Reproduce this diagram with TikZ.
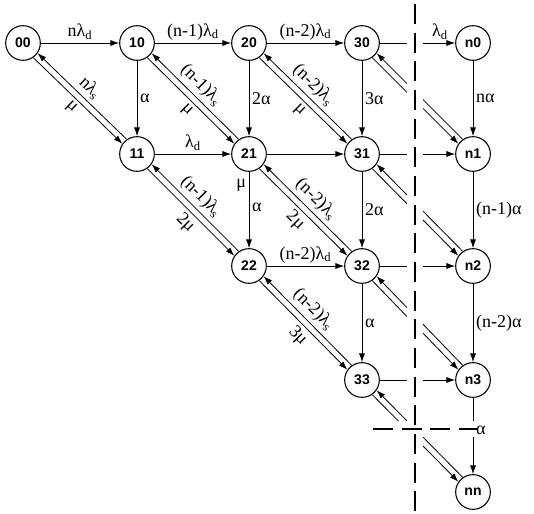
\documentclass[tikz,border=0pt]{standalone}
\usepackage{fontspec}
\setmainfont{Liberation Serif}
\newfontfamily\statefont{Liberation Sans}
\usetikzlibrary{arrows.meta}
\tikzstyle{st} = [circle, draw=black, line width=0.8pt, inner sep=0pt, minimum size=26pt, font=\statefont\bfseries\fontsize{10.5}{12}\selectfont]
\tikzstyle{tr} = [->, line width=0.6pt]
\tikzstyle{lb} = [font=\fontsize{13.5}{15}\selectfont, inner sep=2pt]
\tikzstyle{dl} = [lb, sloped, inner sep=2.5pt]
\tikzstyle{cutgap} = [white, line width=12pt]
\tikzstyle{cutline} = [black, line width=2.2pt, dash pattern=on 15pt off 6.5pt]

\begin{document}
\begin{tikzpicture}[x=0.75pt, y=-0.75pt, >={Latex[length=6.5pt,width=4.5pt]}]
	\useasboundingbox (0,0) rectangle (534,513);

	% states
	\node[st] (s00) at (23,43)   {00};
	\node[st] (s10) at (137,43)  {10};
	\node[st] (s20) at (249,43)  {20};
	\node[st] (s30) at (362,43)  {30};
	\node[st] (sn0) at (473,43)  {n0};
	\node[st] (s11) at (137,154) {11};
	\node[st] (s21) at (249,154) {21};
	\node[st] (s31) at (362,154) {31};
	\node[st] (sn1) at (473,154) {n1};
	\node[st] (s22) at (249,266) {22};
	\node[st] (s32) at (362,266) {32};
	\node[st] (sn2) at (473,266) {n2};
	\node[st] (s33) at (362,380) {33};
	\node[st] (sn3) at (473,380) {n3};
	\node[st] (snn) at (473,492) {nn};

	\coordinate (cuttop) at (415,4);
	\coordinate (cutbot) at (415,513);
	\coordinate (cutl) at (373,429);
	\coordinate (cutr) at (477,429);

	% arrivals
	\draw[tr] (s00) -- node[lb,above]{nλ\textsubscript{d}} (s10);
	\draw[tr] (s10) -- node[lb,above]{(n-1)λ\textsubscript{d}} (s20);
	\draw[tr] (s20) -- node[lb,above]{(n-2)λ\textsubscript{d}} (s30);
	\draw[tr] (s30) -- node[lb,above,pos=0.8]{λ\textsubscript{d}} (sn0);
	\draw[tr] (s11) -- node[lb,above]{λ\textsubscript{d}} (s21);
	\draw[tr] (s21) -- (s31);
	\draw[tr] (s31) -- (sn1);
	\draw[tr] (s22) -- node[lb,above]{(n-2)λ\textsubscript{d}} (s32);
	\draw[tr] (s32) -- (sn2);
	\draw[tr] (s33) -- (sn3);

	% failures
	\draw[tr] (s10) -- node[lb,right]{α} (s11);
	\draw[tr] (s20) -- node[lb,right]{2α} (s21);
	\draw[tr] (s30) -- node[lb,right]{3α} (s31);
	\draw[tr] (sn0) -- node[lb,right]{nα} (sn1);
	\draw[tr] (s21) -- node[lb,left,pos=0.17]{μ} node[lb,right,pos=0.47]{α} (s22);
	\draw[tr] (s31) -- node[lb,right]{2α} (s32);
	\draw[tr] (sn1) -- node[lb,right]{(n-1)α} (sn2);
	\draw[tr] (s32) -- node[lb,right]{α} (s33);
	\draw[tr] (sn2) -- node[lb,right]{(n-2)α} (sn3);
	\draw[tr] (sn3) -- node[lb,right,pos=0.42]{α} (snn);

	% diagonal pairs
	\draw[tr,<-] (s00.-35) -- node[dl,above,pos=0.5]{nλ\textsubscript{s}} (s11.125);
	\draw[tr] (s00.-55) -- node[dl,below,pos=0.5]{μ} (s11.145);
	\draw[tr,<-] (s10.-35) -- node[dl,above,pos=0.47]{(n-1)λ\textsubscript{s}} (s21.125);
	\draw[tr] (s10.-55) -- node[dl,below,pos=0.53]{μ} (s21.145);
	\draw[tr,<-] (s20.-35) -- node[dl,above,pos=0.47]{(n-2)λ\textsubscript{s}} (s31.125);
	\draw[tr] (s20.-55) -- node[dl,below,pos=0.53]{μ} (s31.145);
	\draw[tr,<-] (s11.-35) -- node[dl,above,pos=0.47]{(n-1)λ\textsubscript{s}} (s22.125);
	\draw[tr] (s11.-55) -- node[dl,below,pos=0.53]{2μ} (s22.145);
	\draw[tr,<-] (s21.-35) -- node[dl,above,pos=0.5]{(n-2)λ\textsubscript{s}} (s32.125);
	\draw[tr] (s21.-55) -- node[dl,below,pos=0.5]{2μ} (s32.145);
	\draw[tr,<-] (s22.-35) -- node[dl,above,pos=0.47]{(n-2)λ\textsubscript{s}} (s33.125);
	\draw[tr] (s22.-55) -- node[dl,below,pos=0.53]{3μ} (s33.145);
	\foreach \a/\b in {s30/sn1, s31/sn2, s32/sn3, s33/snn} {
		\draw[tr,<-] (\a.-35) -- (\b.125);
		\draw[tr] (\a.-55) -- (\b.145);
	}

	% truncation
	\draw[cutgap] (cuttop) -- (cutbot);
	\draw[cutgap] (cutl) -- (cutr);
	\draw[cutline] (cuttop) -- (cutbot);
	\draw[cutline] (cutl) -- (cutr);
\end{tikzpicture}
\end{document}
